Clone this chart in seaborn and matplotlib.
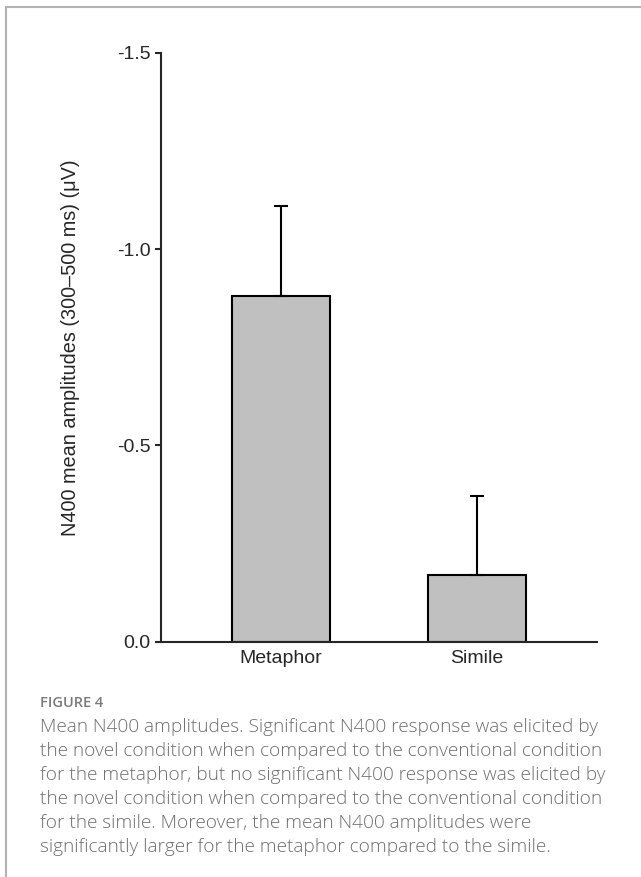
import matplotlib
matplotlib.use("Agg")
import matplotlib.pyplot as plt
import seaborn as sns
from matplotlib.lines import Line2D

# Data
conditions = ["Metaphor", "Simile"]
mean_amp = [-0.88, -0.17]
sem_amp = [0.23, 0.20]

y_ticks = [0.0, -0.5, -1.0, -1.5]
y_tick_labels = ["0.0", "-0.5", "-1.0", "-1.5"]
y_label = "N400 mean amplitudes (300\u2013500 ms) (\u03bcV)"

fig_label = "FIGURE 4"
caption_lines = [
    "Mean N400 amplitudes. Significant N400 response was elicited by",
    "the novel condition when compared to the conventional condition",
    "for the metaphor, but no significant N400 response was elicited by",
    "the novel condition when compared to the conventional condition",
    "for the simile. Moreover, the mean N400 amplitudes were",
    "significantly larger for the metaphor compared to the simile.",
]

sns.set_style("ticks")
plt.rcParams["font.family"] = ["Liberation Sans", "DejaVu Sans"]

fig = plt.figure(figsize=(6.41, 8.77), dpi=100)
ax = fig.add_axes([0.2512, 0.2683, 0.6802, 0.6716])

sns.barplot(x=conditions, y=mean_amp, color="#c0c0c0", edgecolor="black",
            linewidth=1.5, width=0.5, errorbar=None, saturation=1, ax=ax)

# one-sided error bars (away from zero)
ax.errorbar(range(len(conditions)), mean_amp,
            yerr=[sem_amp, [0] * len(sem_amp)],
            fmt="none", ecolor="black", elinewidth=1.5, capsize=5, capthick=1.5)

ax.set_ylim(0, -1.5)
ax.set_xlim(-0.61, 1.61)
ax.set_yticks(y_ticks)
ax.set_yticklabels(y_tick_labels)
ax.set_ylabel(y_label, fontsize=14.3)
ax.yaxis.set_label_coords(-0.185, 0.5)
ax.tick_params(axis="y", length=4.5, width=1.5, labelsize=14, pad=3)
ax.tick_params(axis="x", length=0, labelsize=14, pad=6)
sns.despine(ax=ax)
for s in ["left", "bottom"]:
    ax.spines[s].set_linewidth(1.5)

# page frame
fig.add_artist(Line2D([6 / 641, 1], [1 - 6.5 / 877] * 2, transform=fig.transFigure,
                      color="#b3b3b3", lw=1.5))
fig.add_artist(Line2D([6 / 641] * 2, [0, 1 - 6.5 / 877], transform=fig.transFigure,
                      color="#b3b3b3", lw=1.5))

# caption
fig.text(40 / 641, 1 - 703 / 877, fig_label, fontsize=10.5, color="#7a7a7a",
         family=["Open Sans", "DejaVu Sans"], weight="semibold", va="center")
for i, line in enumerate(caption_lines):
    fig.text(40 / 641, 1 - (727 + i * 24) / 877, line, fontsize=13.7,
             color="#6e6e6e", family=["Open Sans", "DejaVu Sans"],
             weight="light", va="center")

fig.savefig("out.png", dpi=100)
